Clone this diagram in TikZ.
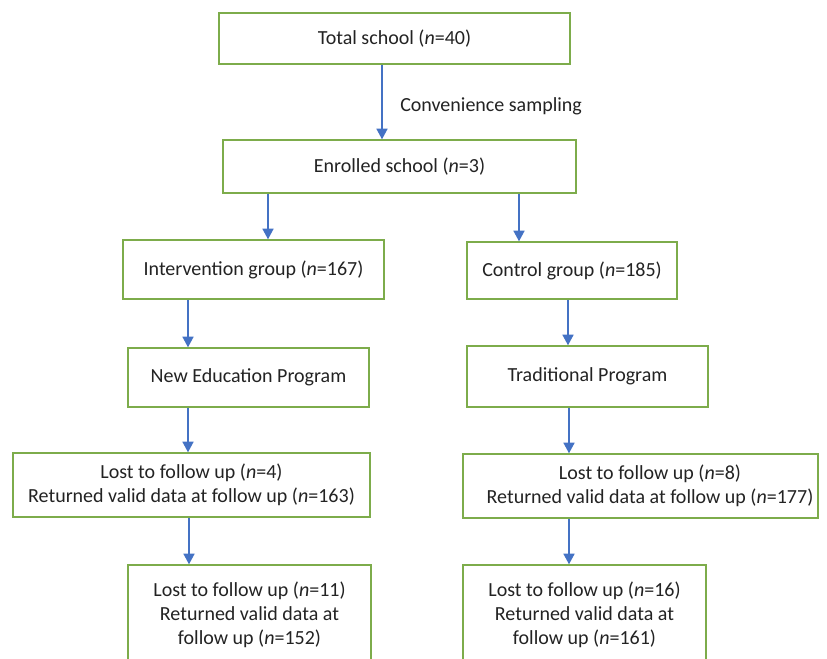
\documentclass[tikz,border=0pt]{standalone}
\usepackage{fontspec}
\setmainfont{Carlito}
\usetikzlibrary{arrows.meta}
\definecolor{boxgreen}{RGB}{125,172,75}
\definecolor{arrblue}{RGB}{68,114,196}
\definecolor{txtgray}{RGB}{35,35,35}
\begin{document}
\begin{tikzpicture}[x=0.75pt,y=-0.75pt,
  box/.style={draw=boxgreen, line width=0.9pt, fill=white, inner sep=0pt, align=center,
    text=txtgray, font=\fontsize{15}{18}\selectfont},
  txt/.style={inner sep=0pt, align=center, text=txtgray, font=\fontsize{15}{18}\selectfont},
  arr/.style={draw=arrblue, line width=1.8pt, -{Triangle[width=8pt,length=8pt]}}]
\useasboundingbox (0,0) rectangle (827,659);
\fill[white] (0,0) rectangle (827,659);
\clip (0,0) rectangle (827,659);

\node[box, minimum width=263.25pt, minimum height=38.25pt] (total) at (394.5,38.5) {Total school (\textit{n}=40)};
\node[box, minimum width=264.75pt, minimum height=39.75pt] (enrolled) at (399.5,166.5) {Enrolled school (\textit{n}=3)};
\node[box, minimum width=195.75pt, minimum height=44.25pt] (interv) at (253.5,269.5) {Intervention group (\textit{n}=167)};
\node[box, minimum width=157.5pt, minimum height=42.75pt] (control) at (572,270.5) {Control group (\textit{n}=185)};
\node[box, minimum width=180.75pt, minimum height=44.25pt] (newed) at (248.5,377.5) {New Education Program};
\node[box, minimum width=180.75pt, minimum height=45.75pt] (trad) at (587.5,376.5) {Traditional Program};
\node[box, minimum width=267.75pt, minimum height=48pt] (lostL) at (191.5,485) {Lost to follow up (\textit{n}=4)\\Returned valid data at follow up (\textit{n}=163)};
\node[box, minimum width=266.25pt, minimum height=48pt] (lostR) at (640.5,486) {};
\node[txt] (lostRt) at (650,486) {Lost to follow up (\textit{n}=8)\\Returned valid data at follow up (\textit{n}=177)};
\node[box, minimum width=182.25pt, minimum height=75pt] (botL) at (249.5,615) {Lost to follow up (\textit{n}=11)\\Returned valid data at\\follow up (\textit{n}=152)};
\node[box, minimum width=182.25pt, minimum height=75pt] (botR) at (584.5,615) {Lost to follow up (\textit{n}=16)\\Returned valid data at\\follow up (\textit{n}=161)};

\coordinate (c1) at (382,0);
\coordinate (c2) at (268,0);
\coordinate (c3) at (519,0);
\coordinate (c4) at (188,0);
\coordinate (c5) at (568,0);
\coordinate (c6) at (189,0);
\coordinate (c7) at (569,0);

\draw[arr] (total.south -| c1) -- (enrolled.north -| c1);
\draw[arr] (enrolled.south -| c2) -- (interv.north -| c2);
\draw[arr] (enrolled.south -| c3) -- (control.north -| c3);
\draw[arr] (interv.south -| c4) -- (newed.north -| c4);
\draw[arr] (control.south -| c5) -- (trad.north -| c5);
\draw[arr] (newed.south -| c4) -- (lostL.north -| c4);
\draw[arr] (trad.south -| c7) -- (lostR.north -| c7);
\draw[arr] (lostL.south -| c6) -- (botL.north -| c6);
\draw[arr] (lostR.south -| c7) -- (botR.north -| c7);

\node[txt, anchor=west] (conv) at (400,106) {Convenience sampling};
\end{tikzpicture}
\end{document}
